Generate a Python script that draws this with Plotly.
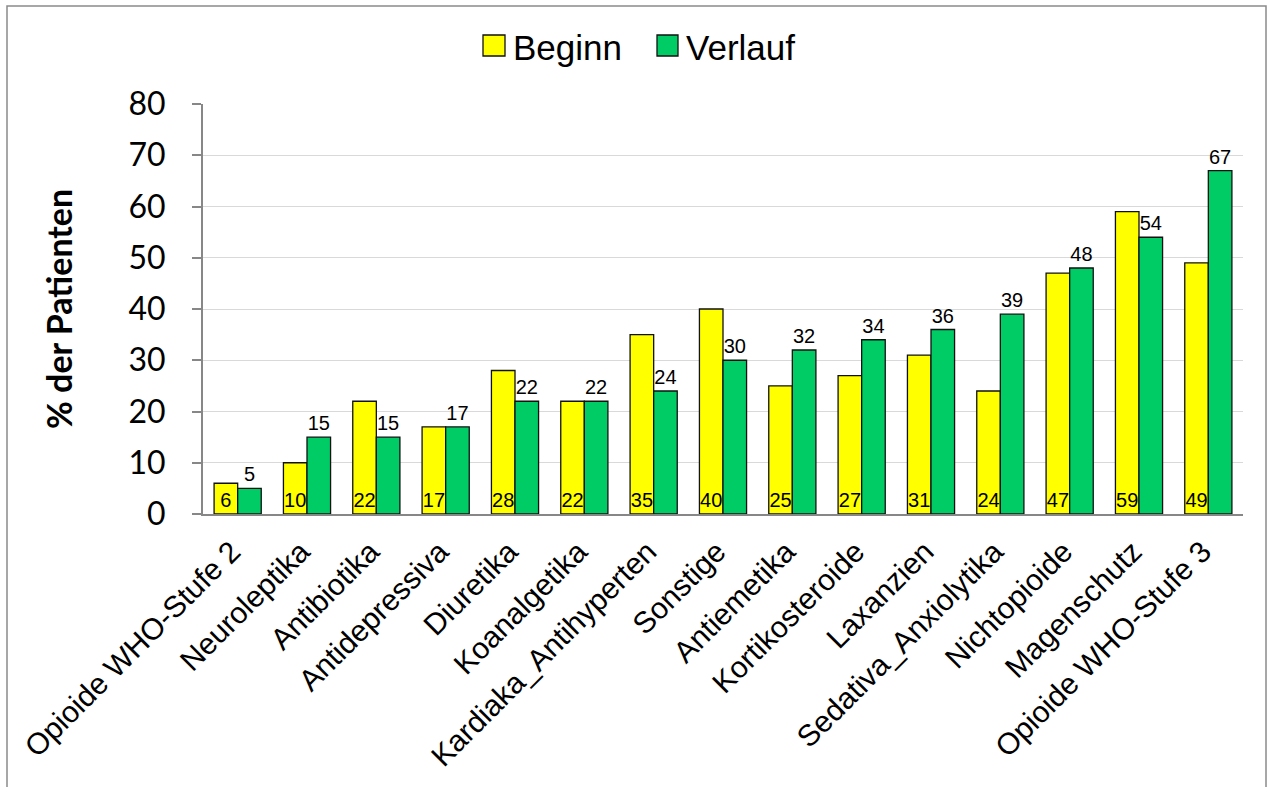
import plotly.graph_objects as go

# Medication groups and share of patients (%) at start and during the course
categories = [
    "Opioide WHO-Stufe 2", "Neuroleptika", "Antibiotika", "Antidepressiva",
    "Diuretika", "Koanalgetika", "Kardiaka_Antihyperten", "Sonstige",
    "Antiemetika", "Kortikosteroide", "Laxanzien", "Sedativa_Anxiolytika",
    "Nichtopioide", "Magenschutz", "Opioide WHO-Stufe 3",
]
beginn = [6, 10, 22, 17, 28, 22, 35, 40, 25, 27, 31, 24, 47, 59, 49]
verlauf = [5, 15, 15, 17, 22, 22, 24, 30, 32, 34, 36, 39, 48, 54, 67]
y_ticks = [0, 10, 20, 30, 40, 50, 60, 70, 80]

YELLOW = "#FFFF00"
GREEN = "#00CC66"
AXIS_GREY = "#878787"
GRID_GREY = "#D9D9D9"
ARIAL = "Liberation Sans, Arial, sans-serif"

W, H = 1269, 787
ML, MR, MT, MB = 203, 26, 104, 273
PW, PH = W - ML - MR, H - MT - MB


def px_x(x):
    return (x - ML) / PW


def px_y(y):
    return (H - MB - y) / PH


fig = go.Figure()
fig.add_trace(go.Bar(
    name="Beginn", x=categories, y=beginn, marker=dict(color=YELLOW, line=dict(color="#111", width=1.3)),
    text=[str(v) for v in beginn], textposition="inside", insidetextanchor="start",
    textangle=0, constraintext="none",
    insidetextfont=dict(family=ARIAL, size=20, color="black"),
    showlegend=False,
))
fig.add_trace(go.Bar(
    name="Verlauf", x=categories, y=verlauf, marker=dict(color=GREEN, line=dict(color="#111", width=1.3)),
    text=[str(v) for v in verlauf], textposition="outside",
    textangle=0, constraintext="none",
    outsidetextfont=dict(family=ARIAL, size=20, color="black"),
    showlegend=False, cliponaxis=False,
))

shapes = [
    # outer frame of the chart
    dict(type="rect", xref="paper", yref="paper",
         x0=px_x(7), x1=px_x(1266), y0=px_y(800), y1=px_y(6),
         line=dict(color="#8A8A8A", width=1.5), fillcolor="rgba(0,0,0,0)", layer="below"),
    # legend swatches
    dict(type="rect", xref="paper", yref="paper",
         x0=px_x(483), x1=px_x(505), y0=px_y(56), y1=px_y(35),
         line=dict(color="#111", width=1.3), fillcolor=YELLOW),
    dict(type="rect", xref="paper", yref="paper",
         x0=px_x(657), x1=px_x(678), y0=px_y(56), y1=px_y(35),
         line=dict(color="#111", width=1.3), fillcolor=GREEN),
]

annotations = [
    dict(text="Beginn", xref="paper", yref="paper", x=px_x(511), y=px_y(47),
         xanchor="left", yanchor="middle", showarrow=False,
         font=dict(family=ARIAL, size=35, color="black")),
    dict(text="Verlauf", xref="paper", yref="paper", x=px_x(684), y=px_y(47),
         xanchor="left", yanchor="middle", showarrow=False,
         font=dict(family=ARIAL, size=35, color="black")),
    dict(text="<b>% der Patienten</b>", xref="paper", yref="paper",
         x=px_x(58), y=px_y(309), textangle=-90,
         xanchor="center", yanchor="middle", showarrow=False,
         font=dict(family="Lato, sans-serif", size=34, color="black")),
]

fig.update_layout(
    width=W, height=H,
    margin=dict(l=ML, r=MR, t=MT, b=MB, pad=0),
    paper_bgcolor="white", plot_bgcolor="white",
    barmode="group", bargap=0.32, bargroupgap=0,
    shapes=shapes, annotations=annotations,
    showlegend=False,
)
fig.update_xaxes(
    type="category", tickangle=-45, showgrid=False, automargin=False,
    showline=True, linecolor=AXIS_GREY, linewidth=2,
    ticks="", ticklabelstandoff=6, ticklabelshift=-6,
    tickfont=dict(family=ARIAL, size=30, color="black"),
)
fig.update_yaxes(
    range=[0, 80], tickvals=y_ticks, ticktext=[str(v) for v in y_ticks],
    showgrid=True, gridcolor=GRID_GREY, gridwidth=1.3, automargin=False,
    showline=True, linecolor=AXIS_GREY, linewidth=2,
    ticks="outside", ticklen=9, tickcolor=AXIS_GREY, tickwidth=1.5,
    ticklabelstandoff=20, zeroline=False,
    tickfont=dict(family="Lato, sans-serif", size=32, color="black"),
)

fig.write_html("out.html")
